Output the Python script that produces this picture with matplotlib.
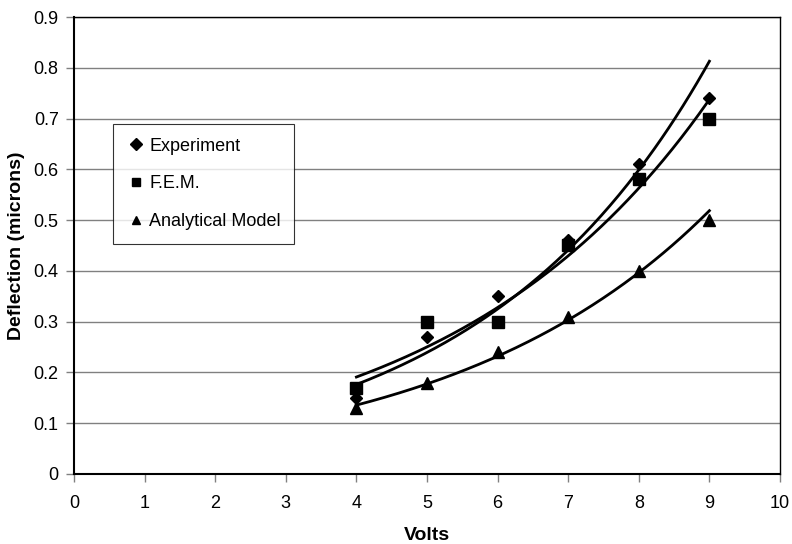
import numpy as np
import matplotlib
matplotlib.use("Agg")
import matplotlib.pyplot as plt

plt.rcParams['font.family'] = ['Liberation Sans', 'DejaVu Sans']

volts = [4, 5, 6, 7, 8, 9]
experiment = [0.15, 0.27, 0.35, 0.46, 0.61, 0.74]
fem = [0.17, 0.30, 0.30, 0.45, 0.58, 0.70]
analytical = [0.13, 0.18, 0.24, 0.31, 0.40, 0.50]
x_ticks = list(range(0, 11))
y_ticks = [0, 0.1, 0.2, 0.3, 0.4, 0.5, 0.6, 0.7, 0.8, 0.9]

fig = plt.figure(figsize=(7.92, 5.44), dpi=100)
L, R, T, B = 74, 780, 17, 474
ax = fig.add_axes([L/792, 1-B/544, (R-L)/792, (B-T)/544])

series = [("Experiment", experiment, "D", 6.5), ("F.E.M.", fem, "s", 8), ("Analytical Model", analytical, "^", 8)]
x = np.array(volts, dtype=float)
xs = np.linspace(x.min(), x.max(), 200)
handles = []
for name, ys, mk, ms in series:
    h, = ax.plot(volts, ys, linestyle='none', marker=mk, color='black', markersize=ms, label=name, zorder=3)
    handles.append(h)
    b, a = np.polyfit(x, np.log(ys), 1)
    ax.plot(xs, np.exp(a + b * xs), color='black', lw=2, zorder=2)

ax.set_xlim(0, 10)
ax.set_ylim(0, 0.9)
ax.set_xticks(x_ticks)
ax.set_yticks(y_ticks)
ax.set_yticklabels([f"{v:g}" for v in y_ticks])
ax.yaxis.grid(True, color='#808080', lw=1)
ax.set_axisbelow(True)
for s in ['top', 'right']:
    ax.spines[s].set_linewidth(1.0)
for s in ['left', 'bottom']:
    ax.spines[s].set_linewidth(1.5)
ax.tick_params(direction='out', length=6, width=1, color='#808080', labelsize=13)
ax.tick_params(axis='x', pad=9)
ax.tick_params(axis='y', pad=5)
ax.set_xlabel("Volts", fontsize=14, fontweight='bold', labelpad=11)
ax.set_ylabel("Deflection (microns)", fontsize=14, fontweight='bold', labelpad=6)

leg = ax.legend(handles=handles, loc='upper left', bbox_to_anchor=((113-L)/(R-L), (B-124)/(B-T)),
                frameon=True, fancybox=False, edgecolor='black', fontsize=13,
                labelspacing=1.15, handlelength=1.0, handletextpad=0.25, borderpad=0.75,
                borderaxespad=0)
leg.get_frame().set_linewidth(0.8)
for h in leg.legend_handles:
    h.set_markersize(6)

fig.savefig("out.png", dpi=100)
